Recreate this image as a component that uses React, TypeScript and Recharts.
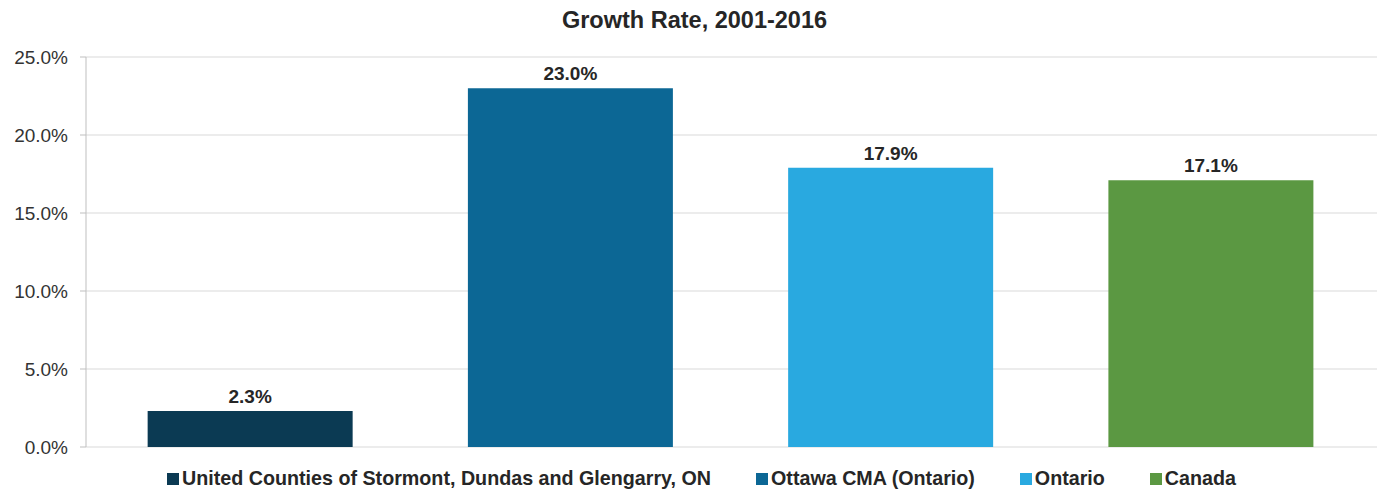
import React from "react";
import { BarChart, Bar, XAxis, YAxis, CartesianGrid, LabelList, Cell } from "recharts";

const regions = [
  "United Counties of Stormont, Dundas and Glengarry, ON",
  "Ottawa CMA (Ontario)",
  "Ontario",
  "Canada",
];
const growthRates = [2.3, 23.0, 17.9, 17.1];
const barColors = ["#0b3a53", "#0c6795", "#29a9e0", "#5b9842"];
const yTicks = [0, 5, 10, 15, 20, 25];

const data = regions.map((name, i) => ({ name, rate: growthRates[i] }));

const pct = (v: number) => v.toFixed(1) + "%";

const App: React.FC = () => {
  return (
    <div style={{ position: "absolute", left: 0, top: 0, width: 1389, height: 491, fontFamily: "'Liberation Sans', Arial, sans-serif" }}>
      <div
        style={{
          position: "absolute",
          top: 7,
          left: 0,
          width: 1389,
          textAlign: "center",
          fontSize: 23.5,
          fontWeight: "bold",
          color: "#262626",
        }}
      >
        Growth Rate, 2001-2016
      </div>
      <BarChart
        width={1389}
        height={491}
        data={data}
        margin={{ top: 57, right: 12, bottom: 44, left: 0 }}
        barCategoryGap="18%"
      >
        <CartesianGrid vertical={false} stroke="#d9d9d9" />
        <XAxis dataKey="name" hide padding={{ left: 4, right: 6 }} />
        <YAxis
          width={86}
          domain={[0, 25]}
          ticks={yTicks}
          tickFormatter={pct}
          tickSize={6}
          tickMargin={12}
          axisLine={{ stroke: "#bfbfbf" }}
          tickLine={{ stroke: "#bfbfbf" }}
          tick={{ fill: "#333333", fontSize: 19 }}
        />
        <Bar dataKey="rate" isAnimationActive={false}>
          {data.map((d, i) => (
            <Cell key={d.name} fill={barColors[i]} />
          ))}
          <LabelList
            dataKey="rate"
            position="top"
            offset={8}
            formatter={(v: any) => pct(Number(v))}
            style={{ fill: "#262626", fontSize: 19, fontWeight: "bold" }}
          />
        </Bar>
      </BarChart>
      <div
        style={{
          position: "absolute",
          left: 167,
          top: 467,
          display: "flex",
          alignItems: "center",
          fontWeight: "bold",
          fontSize: 19.7,
          color: "#262626",
          whiteSpace: "nowrap",
        }}
      >
        {regions.map((name, i) => (
          <div key={name} style={{ display: "flex", alignItems: "center", marginRight: 45 }}>
            <span style={{ width: 12, height: 12, background: barColors[i], marginRight: 3, display: "inline-block" }} />
            <span>{name}</span>
          </div>
        ))}
      </div>
    </div>
  );
};

export default App;
